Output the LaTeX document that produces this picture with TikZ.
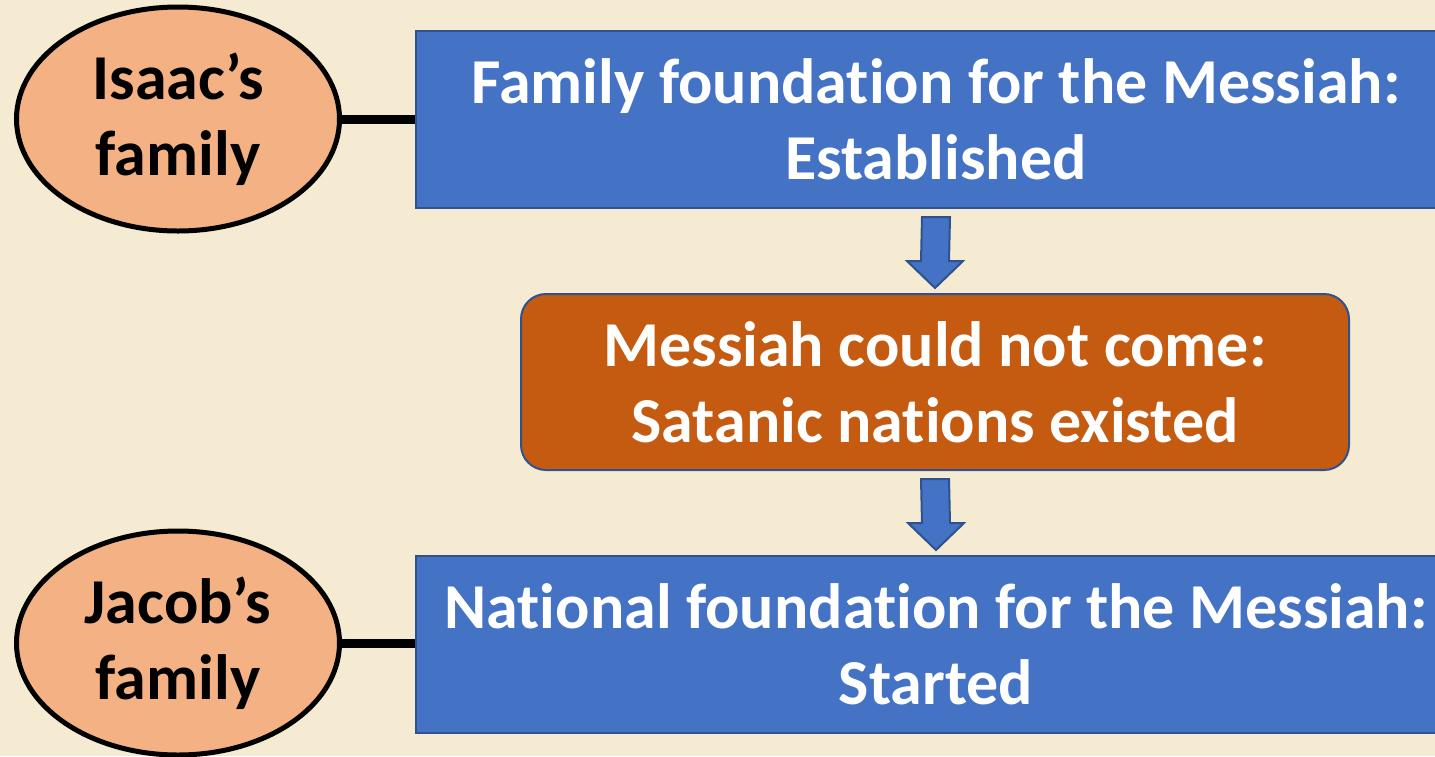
\documentclass[tikz,border=0pt]{standalone}
\usepackage{fontspec}
\setmainfont[RawFeature={-liga;-clig;-dlig;-calt;-rlig}]{Carlito}
\usetikzlibrary{shapes.geometric, calc}

\definecolor{paper}{RGB}{245,235,210}
\definecolor{boxblue}{RGB}{68,114,196}
\definecolor{edgeblue}{RGB}{47,82,143}
\definecolor{rust}{RGB}{197,90,17}
\definecolor{peach}{RGB}{244,177,131}

\tikzset{
  bigtext/.style={font=\fontsize{64}{76}\selectfont\bfseries, align=center},
  bluebox/.style={draw=edgeblue, fill=boxblue, line width=2, text=white, bigtext,
    minimum width=1040, minimum height=177, inner sep=0},
  rustbox/.style={draw=edgeblue, fill=rust, line width=2, text=white, bigtext,
    rounded corners=25, minimum width=828, minimum height=176, inner sep=0},
  familyoval/.style={ellipse, draw=black, fill=peach, line width=5, bigtext,
    minimum width=323, minimum height=224, inner sep=0},
  blockarrow/.style={draw=edgeblue, fill=boxblue, line width=2, line join=miter},
}

% block arrow going down from one node to the next
\newcommand\downblock[2]{%
  \draw[blockarrow] ($(#1)+(-14,8)$) -- ($(#1)+(14,8)$) -- ($(#2)+(14,-32)$)
    -- ($(#2)+(28,-32)$) -- ($(#2)+(0,-5)$) -- ($(#2)+(-28,-32)$)
    -- ($(#2)+(-14,-32)$) -- cycle;}

\begin{document}
\begin{tikzpicture}[x=1pt, y=-1pt]

\fill[paper] (0,0) rectangle (1435,756);
\useasboundingbox (0,0) rectangle (1435,756);

% Define the nodes with coordinates
\node[bluebox] (FAM) at (936,119.5) {Family foundation for the Messiah:\\Established};
\node[rustbox] (SAT) at (935,382) {Messiah could not come:\\Satanic nations existed};
\node[bluebox] (NAT) at (936,644.5) {National foundation for the Messiah:\\Started};
\node[familyoval] (ISA) at (178,119) {Isaac’s\\family};
\node[familyoval] (JAC) at (178,643) {Jacob’s\\family};

% Connect the families to the foundations
\draw[line width=9] (ISA.east) -- (ISA.east -| FAM.west);
\draw[line width=9] (JAC.east) -- (JAC.east -| NAT.west);

% Block arrows down the middle
\downblock{FAM.south}{SAT.north}
\downblock{SAT.south}{NAT.north}

\end{tikzpicture}
\end{document}
